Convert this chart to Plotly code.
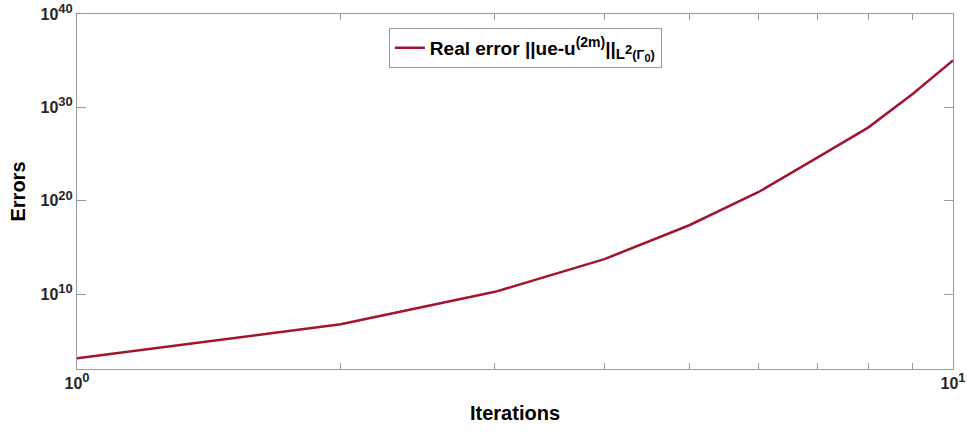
import plotly.graph_objects as go

iterations = [1, 2, 3, 4, 5, 6, 7, 8, 9, 10]
log10_errors = [3.14, 6.78, 10.26, 13.76, 17.39, 20.95, 24.63, 27.84, 31.47, 35.03]
errors = [10 ** v for v in log10_errors]


def sup_label(exp, size=13):
    return f"<b>10<sup><span style='font-size:{size}px'>{exp}</span></sup></b>"


x_tickvals = [1, 2, 3, 4, 5, 6, 7, 8, 9, 10]
x_ticktext = [sup_label(0), "", "", "", "", "", "", "", "", sup_label(1)]
y_tickvals = [1e10, 1e20, 1e30, 1e40]
y_ticktext = [sup_label(10), sup_label(20), sup_label(30), sup_label(40)]

series_name = (
    "<b>Real error ||ue-u<sup><span style='font-size:14px'>(2m)</span></sup>||"
    "<sub><span style='font-size:15px'>L</span>"
    "<sup><span style='font-size:13px'>2</span></sup>"
    "<span style='font-size:13px'>(Γ</span>"
    "<sub><span style='font-size:11px'>0</span></sub>"
    "<span style='font-size:13px'>)</span></sub></b>"
)

FONT = "Liberation Sans, Arial, sans-serif"
AXIS_GRAY = "#9a9a9a"

fig = go.Figure()
fig.add_trace(go.Scatter(
    x=iterations, y=errors, mode="lines", name=series_name,
    line=dict(color="#A2142F", width=2.5),
))

axis_common = dict(
    showgrid=False, zeroline=False, showline=True, mirror="ticks",
    linecolor=AXIS_GRAY, linewidth=1, ticks="inside", tickcolor=AXIS_GRAY,
    tickwidth=1, tickfont=dict(family=FONT, size=16, color="#262626"),
    automargin=False, ticklabeloverflow="allow",
)

fig.update_xaxes(
    type="log", range=[0, 1], tickmode="array", tickvals=x_tickvals,
    ticktext=x_ticktext, ticklen=6,
    title=dict(text="<b>Iterations</b>", font=dict(family=FONT, size=20, color="#000000"), standoff=14),
    **axis_common,
)
fig.update_yaxes(
    type="log", range=[2, 40], tickmode="array", tickvals=y_tickvals,
    ticktext=y_ticktext, ticklen=9,
    title=dict(text="<b>Errors</b>", font=dict(family=FONT, size=20, color="#000000"), standoff=9),
    **axis_common,
)

fig.update_layout(
    width=967, height=432,
    margin=dict(l=77, r=14, t=13.5, b=63),
    paper_bgcolor="white", plot_bgcolor="white",
    font=dict(family=FONT, size=16, color="#262626"),
    showlegend=True,
    legend=dict(
        x=0.356, y=0.961, xanchor="left", yanchor="top",
        bgcolor="white", bordercolor=AXIS_GRAY, borderwidth=1,
        font=dict(family=FONT, size=19, color="#000000"),
    ),
)

fig.write_html("out.html")
